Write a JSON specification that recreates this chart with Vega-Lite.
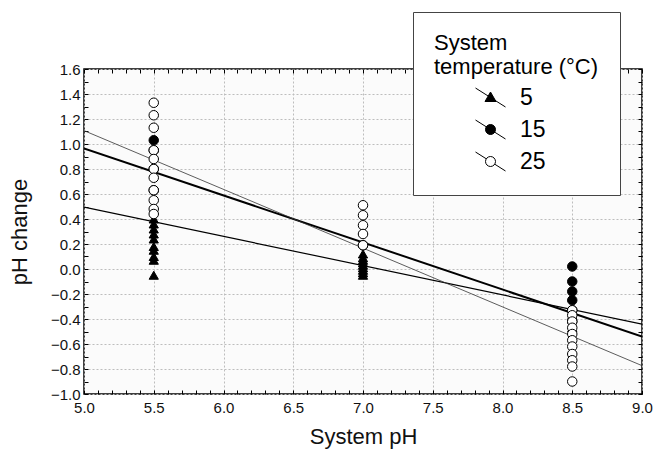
{
  "$schema": "https://vega.github.io/schema/vega-lite/v6.json",
  "width": 558,
  "height": 325,
  "autosize": {"type": "none"},
  "padding": {"left": 84, "top": 69, "right": 13, "bottom": 68},
  "background": "white",
  "datasets": {
    "pts": [
      {"ph": 5.5, "change": 0.40, "temp": "5"},
      {"ph": 5.5, "change": 0.36, "temp": "5"},
      {"ph": 5.5, "change": 0.32, "temp": "5"},
      {"ph": 5.5, "change": 0.28, "temp": "5"},
      {"ph": 5.5, "change": 0.24, "temp": "5"},
      {"ph": 5.5, "change": 0.18, "temp": "5"},
      {"ph": 5.5, "change": 0.15, "temp": "5"},
      {"ph": 5.5, "change": 0.10, "temp": "5"},
      {"ph": 5.5, "change": 0.07, "temp": "5"},
      {"ph": 5.5, "change": -0.05, "temp": "5"},
      {"ph": 7.0, "change": 0.12, "temp": "5"},
      {"ph": 7.0, "change": 0.09, "temp": "5"},
      {"ph": 7.0, "change": 0.07, "temp": "5"},
      {"ph": 7.0, "change": 0.05, "temp": "5"},
      {"ph": 7.0, "change": 0.03, "temp": "5"},
      {"ph": 7.0, "change": 0.01, "temp": "5"},
      {"ph": 7.0, "change": -0.01, "temp": "5"},
      {"ph": 7.0, "change": -0.03, "temp": "5"},
      {"ph": 7.0, "change": -0.05, "temp": "5"},
      {"ph": 8.5, "change": -0.37, "temp": "5"},
      {"ph": 8.5, "change": -0.47, "temp": "5"},
      {"ph": 5.5, "change": 1.03, "temp": "15"},
      {"ph": 5.5, "change": 0.95, "temp": "15"},
      {"ph": 5.5, "change": 0.80, "temp": "15"},
      {"ph": 5.5, "change": 0.63, "temp": "15"},
      {"ph": 7.0, "change": 0.19, "temp": "15"},
      {"ph": 8.5, "change": 0.02, "temp": "15"},
      {"ph": 8.5, "change": -0.10, "temp": "15"},
      {"ph": 8.5, "change": -0.18, "temp": "15"},
      {"ph": 8.5, "change": -0.25, "temp": "15"},
      {"ph": 8.5, "change": -0.33, "temp": "15"},
      {"ph": 8.5, "change": -0.42, "temp": "15"},
      {"ph": 5.5, "change": 1.33, "temp": "25"},
      {"ph": 5.5, "change": 1.23, "temp": "25"},
      {"ph": 5.5, "change": 1.13, "temp": "25"},
      {"ph": 5.5, "change": 0.95, "temp": "25"},
      {"ph": 5.5, "change": 0.88, "temp": "25"},
      {"ph": 5.5, "change": 0.80, "temp": "25"},
      {"ph": 5.5, "change": 0.73, "temp": "25"},
      {"ph": 5.5, "change": 0.63, "temp": "25"},
      {"ph": 5.5, "change": 0.55, "temp": "25"},
      {"ph": 5.5, "change": 0.48, "temp": "25"},
      {"ph": 5.5, "change": 0.44, "temp": "25"},
      {"ph": 7.0, "change": 0.51, "temp": "25"},
      {"ph": 7.0, "change": 0.43, "temp": "25"},
      {"ph": 7.0, "change": 0.35, "temp": "25"},
      {"ph": 7.0, "change": 0.28, "temp": "25"},
      {"ph": 7.0, "change": 0.19, "temp": "25"},
      {"ph": 8.5, "change": -0.33, "temp": "25"},
      {"ph": 8.5, "change": -0.37, "temp": "25"},
      {"ph": 8.5, "change": -0.42, "temp": "25"},
      {"ph": 8.5, "change": -0.47, "temp": "25"},
      {"ph": 8.5, "change": -0.52, "temp": "25"},
      {"ph": 8.5, "change": -0.57, "temp": "25"},
      {"ph": 8.5, "change": -0.62, "temp": "25"},
      {"ph": 8.5, "change": -0.68, "temp": "25"},
      {"ph": 8.5, "change": -0.73, "temp": "25"},
      {"ph": 8.5, "change": -0.78, "temp": "25"},
      {"ph": 8.5, "change": -0.90, "temp": "25"}
    ],
    "fits": [
      {"ph": 5.0, "change": 0.495, "temp": "5"},
      {"ph": 9.0, "change": -0.441, "temp": "5"},
      {"ph": 5.0, "change": 0.965, "temp": "15"},
      {"ph": 9.0, "change": -0.54, "temp": "15"},
      {"ph": 5.0, "change": 1.107, "temp": "25"},
      {"ph": 9.0, "change": -0.773, "temp": "25"}
    ]
  },
  "layer": [
    {
      "data": {"name": "fits"},
      "transform": [{"filter": "datum.temp == '5'"}],
      "mark": {"type": "line", "color": "black", "strokeWidth": 1.2, "clip": true},
      "encoding": {
        "x": {
          "field": "ph", "type": "quantitative",
          "scale": {"domain": [5, 9], "nice": false, "zero": false},
          "axis": {
            "orient": "bottom",
            "title": "System pH",
            "values": [5,5.1,5.2,5.3,5.4,5.5,5.6,5.7,5.8,5.9,6,6.1,6.2,6.3,6.4,6.5,6.6,6.7,6.8,6.9,7,7.1,7.2,7.3,7.4,7.5,7.6,7.7,7.8,7.9,8,8.1,8.2,8.3,8.4,8.5,8.6,8.7,8.8,8.9,9],
            "labelExpr": "abs(datum.value*2 - round(datum.value*2)) < 0.001 ? format(datum.value, '.1f') : ''",
            "gridOpacity": {"condition": {"test": "abs(datum.value*2 - round(datum.value*2)) < 0.001", "value": 1}, "value": 0},
            "labelPadding": 10,
            "titlePadding": 11,
            "labelFlush": false,
            "labelOverlap": false
          }
        },
        "y": {
          "field": "change", "type": "quantitative",
          "scale": {"domain": [-1, 1.6], "nice": false, "zero": false},
          "axis": {
            "orient": "left",
            "title": "pH change",
            "values": [-1,-0.9,-0.8,-0.7,-0.6,-0.5,-0.4,-0.3,-0.2,-0.1,0,0.1,0.2,0.3,0.4,0.5,0.6,0.7,0.8,0.9,1,1.1,1.2,1.3,1.4,1.5,1.6],
            "labelExpr": "abs(datum.value*5 - round(datum.value*5)) < 0.001 ? format(datum.value, '.1f') : ''",
            "gridOpacity": {"condition": {"test": "abs(datum.value*5 - round(datum.value*5)) < 0.001", "value": 1}, "value": 0},
            "labelPadding": 8,
            "titlePadding": 19,
            "labelFlush": false,
            "labelOverlap": false
          }
        }
      }
    },
    {
      "data": {"name": "fits"},
      "transform": [{"filter": "datum.temp == '15'"}],
      "mark": {"type": "line", "color": "black", "strokeWidth": 2, "clip": true},
      "encoding": {
        "x": {"field": "ph", "type": "quantitative", "axis": null},
        "y": {"field": "change", "type": "quantitative", "axis": null}
      }
    },
    {
      "data": {"name": "fits"},
      "transform": [{"filter": "datum.temp == '25'"}],
      "mark": {"type": "line", "color": "#333", "strokeWidth": 0.8, "clip": true},
      "encoding": {
        "x": {"field": "ph", "type": "quantitative", "axis": null},
        "y": {"field": "change", "type": "quantitative", "axis": null}
      }
    },
    {
      "data": {"name": "pts"},
      "transform": [{"filter": "datum.temp == '5'"}],
      "mark": {"type": "point", "shape": "triangle-up", "filled": true, "fill": "black", "stroke": "black", "strokeWidth": 1, "opacity": 1, "size": 85},
      "encoding": {
        "x": {"field": "ph", "type": "quantitative", "axis": null},
        "y": {"field": "change", "type": "quantitative", "axis": null}
      }
    },
    {
      "data": {"name": "pts"},
      "transform": [{"filter": "datum.temp == '15'"}],
      "mark": {"type": "point", "shape": "circle", "filled": true, "fill": "black", "stroke": "black", "strokeWidth": 1, "opacity": 1, "size": 90},
      "encoding": {
        "x": {"field": "ph", "type": "quantitative", "axis": null},
        "y": {"field": "change", "type": "quantitative", "axis": null}
      }
    },
    {
      "data": {"name": "pts"},
      "transform": [{"filter": "datum.temp == '25'"}],
      "mark": {"type": "point", "shape": "circle", "filled": true, "fill": "white", "stroke": "black", "strokeWidth": 1, "opacity": 1, "size": 90},
      "encoding": {
        "x": {"field": "ph", "type": "quantitative", "axis": null},
        "y": {"field": "change", "type": "quantitative", "axis": null}
      }
    },
    {
      "data": {"name": "pts"},
      "transform": [{"filter": "datum.ph > 100"}],
      "mark": {"type": "point", "filled": true, "strokeWidth": 1, "opacity": 1},
      "encoding": {
        "x": {"field": "ph", "type": "quantitative", "axis": null},
        "y": {"field": "change", "type": "quantitative", "axis": null},
        "shape": {
          "field": "temp", "type": "nominal",
          "scale": {"domain": ["5", "15", "25"], "range": [
            "M-3,-1.9L3,1.9M0,-1.1L1.1,0.8L-1.1,0.8Z",
            "M-3,-1.9L3,1.9M1,0A1,1,0,1,1,-1,0A1,1,0,1,1,1,0Z",
            "M-3,-1.9L-0.85,-0.54M0.85,0.54L3,1.9M1,0A1,1,0,1,1,-1,0A1,1,0,1,1,1,0Z"
          ]},
          "legend": {
            "title": ["System", "temperature (°C)"],
            "orient": "none",
            "legendX": 329,
            "legendY": -57,
            "fillColor": "white",
            "strokeColor": "#444",
            "padding": 21,
            "titleFontSize": 22,
            "titleFontWeight": "normal",
            "titleColor": "black",
            "titleLimit": 400,
            "titlePadding": 7,
            "labelFontSize": 23,
            "labelColor": "black",
            "labelOffset": 18,
            "symbolOffset": 45,
            "symbolSize": 100,
            "symbolStrokeWidth": 1,
            "rowPadding": 8,
            "labelExpr": "datum.label == '5' ? '\u20075' : datum.label"
          }
        },
        "fill": {
          "field": "temp", "type": "nominal",
          "scale": {"domain": ["5", "15", "25"], "range": ["black", "black", "white"]},
          "legend": {"title": ["System", "temperature (°C)"]}
        },
        "stroke": {
          "field": "temp", "type": "nominal",
          "scale": {"domain": ["5", "15", "25"], "range": ["black", "black", "black"]},
          "legend": {"title": ["System", "temperature (°C)"]}
        }
      }
    },
    {
      "data": {"name": "fits"},
      "mark": {"type": "point", "opacity": 0},
      "encoding": {
        "x": {
          "field": "ph", "type": "quantitative",
          "axis": {"orient": "top", "title": null, "labels": false, "grid": false,
            "values": [5,5.1,5.2,5.3,5.4,5.5,5.6,5.7,5.8,5.9,6,6.1,6.2,6.3,6.4,6.5,6.6,6.7,6.8,6.9,7,7.1,7.2,7.3,7.4,7.5,7.6,7.7,7.8,7.9,8,8.1,8.2,8.3,8.4,8.5,8.6,8.7,8.8,8.9,9]}
        },
        "y": {
          "field": "change", "type": "quantitative",
          "axis": {"orient": "right", "title": null, "labels": false, "grid": false,
            "values": [-1,-0.9,-0.8,-0.7,-0.6,-0.5,-0.4,-0.3,-0.2,-0.1,0,0.1,0.2,0.3,0.4,0.5,0.6,0.7,0.8,0.9,1,1.1,1.2,1.3,1.4,1.5,1.6]}
        }
      }
    }
  ],
  "resolve": {"axis": {"x": "independent", "y": "independent"}},
  "config": {
    "font": "Liberation Sans",
    "view": {"stroke": "black", "strokeWidth": 1.5, "fill": "#fbfbfb"},
    "axis": {
      "domain": false,
      "tickColor": "black",
      "tickSize": -4,
      "tickWidth": 1,
      "gridColor": "#bdbdbd",
      "gridDash": [2, 2],
      "gridWidth": 1,
      "labelFont": "Liberation Sans",
      "labelFontSize": 15,
      "labelColor": "#111",
      "titleFont": "Liberation Sans",
      "titleFontSize": 22,
      "titleFontWeight": "normal",
      "titleColor": "#111"
    },
    "legend": {"labelFont": "Liberation Sans", "titleFont": "Liberation Sans"}
  }
}
